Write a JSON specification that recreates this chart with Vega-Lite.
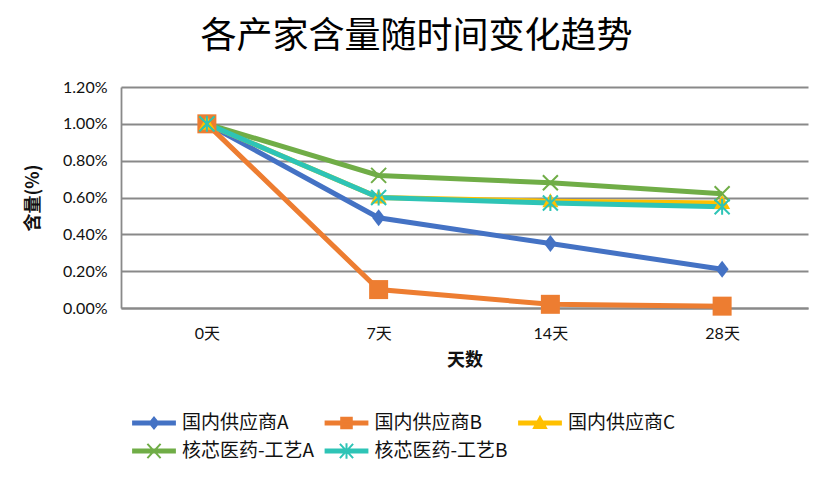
{
  "$schema": "https://vega.github.io/schema/vega-lite/v6.json",
  "width": 687,
  "height": 221,
  "autosize": {"type": "none"},
  "padding": {"left": 121, "top": 87, "right": 24, "bottom": 176},
  "background": "white",
  "title": {
    "text": "各产家含量随时间变化趋势",
    "font": "Noto Sans CJK SC",
    "fontSize": 36,
    "fontWeight": "normal",
    "color": "#000000",
    "anchor": "middle",
    "frame": "group",
    "dx": -48,
    "offset": 23
  },
  "data": {
    "values": [
      {"series": "国内供应商A", "day": "0天", "d": 0, "value": 0.0100},
      {"series": "国内供应商A", "day": "7天", "d": 7, "value": 0.0049},
      {"series": "国内供应商A", "day": "14天", "d": 14, "value": 0.0035},
      {"series": "国内供应商A", "day": "28天", "d": 28, "value": 0.0021},
      {"series": "国内供应商B", "day": "0天", "d": 0, "value": 0.0100},
      {"series": "国内供应商B", "day": "7天", "d": 7, "value": 0.0010},
      {"series": "国内供应商B", "day": "14天", "d": 14, "value": 0.0002},
      {"series": "国内供应商B", "day": "28天", "d": 28, "value": 0.0001},
      {"series": "国内供应商C", "day": "0天", "d": 0, "value": 0.0100},
      {"series": "国内供应商C", "day": "7天", "d": 7, "value": 0.0060},
      {"series": "国内供应商C", "day": "14天", "d": 14, "value": 0.0058},
      {"series": "国内供应商C", "day": "28天", "d": 28, "value": 0.0057},
      {"series": "核芯医药-工艺A", "day": "0天", "d": 0, "value": 0.0100},
      {"series": "核芯医药-工艺A", "day": "7天", "d": 7, "value": 0.0072},
      {"series": "核芯医药-工艺A", "day": "14天", "d": 14, "value": 0.0068},
      {"series": "核芯医药-工艺A", "day": "28天", "d": 28, "value": 0.0062},
      {"series": "核芯医药-工艺B", "day": "0天", "d": 0, "value": 0.0100},
      {"series": "核芯医药-工艺B", "day": "7天", "d": 7, "value": 0.0060},
      {"series": "核芯医药-工艺B", "day": "14天", "d": 14, "value": 0.0057},
      {"series": "核芯医药-工艺B", "day": "28天", "d": 28, "value": 0.0055}
    ]
  },
  "encoding": {
    "x": {
      "field": "day",
      "type": "nominal",
      "sort": ["0天", "7天", "14天", "28天"],
      "axis": {
        "title": "天数",
        "labelAngle": 0,
        "ticks": false,
        "tickSize": 0,
        "grid": false,
        "domainColor": "#898989",
        "domainWidth": 1.8,
        "labelFont": "Lato, Noto Sans CJK SC",
        "labelFontSize": 16,
        "labelColor": "#111111",
        "labelPadding": 17,
        "titleFont": "Noto Sans CJK SC",
        "titleFontSize": 18,
        "titleFontWeight": "bold",
        "titleColor": "#111111",
        "titlePadding": 10
      }
    },
    "y": {
      "field": "value",
      "type": "quantitative",
      "scale": {"domain": [0, 0.012], "nice": false},
      "axis": {
        "title": "含量(%)",
        "values": [0, 0.002, 0.004, 0.006, 0.008, 0.01, 0.012],
        "format": ".2%",
        "ticks": false,
        "tickSize": 0,
        "grid": true,
        "gridColor": "#898989",
        "gridWidth": 1.8,
        "domainColor": "#898989",
        "domainWidth": 1.8,
        "labelFont": "Lato",
        "labelFontSize": 16,
        "labelColor": "#111111",
        "labelPadding": 14,
        "titleFont": "Noto Sans CJK SC",
        "titleFontSize": 18,
        "titleFontWeight": "bold",
        "titleColor": "#111111",
        "titlePadding": 20
      }
    },
    "color": {
      "field": "series",
      "type": "nominal",
      "scale": {
        "domain": ["国内供应商A", "国内供应商B", "国内供应商C", "核芯医药-工艺A", "核芯医药-工艺B"],
        "range": ["#4472C4", "#ED7D31", "#FFC000", "#70AD47", "#2EC4B6"]
      },
      "legend": {
        "title": null,
        "orient": "none",
        "direction": "horizontal",
        "legendX": 10,
        "legendY": 324,
        "columns": 3,
        "padding": 0,
        "symbolSize": 484,
        "symbolStrokeWidth": 2,
        "symbolOffset": 0,
        "symbolOpacity": 1,
        "labelOffset": 27,
        "labelFont": "Noto Sans CJK SC",
        "labelFontSize": 19,
        "labelColor": "#111111",
        "columnPadding": 6.5,
        "rowPadding": 6,
        "encoding": {
          "symbols": {
            "shape": {"value": {"signal": "datum.value === '国内供应商A' ? 'M-0.9,-0.14H2.9V0.14H-0.9ZM1,-0.5L1.4,0L1,0.5L0.6,0Z' : datum.value === '国内供应商B' ? 'M-0.9,-0.14H2.9V0.14H-0.9ZM0.52,-0.48H1.48V0.48H0.52Z' : datum.value === '国内供应商C' ? 'M-0.9,-0.14H2.9V0.14H-0.9ZM1,-0.55L1.55,0.45L0.45,0.45Z' : datum.value === '核芯医药-工艺A' ? 'M-0.9,-0.14H2.9V0.14H-0.9ZM0.4,-0.65L1.6,0.65M0.4,0.65L1.6,-0.65' : 'M-0.9,-0.14H2.9V0.14H-0.9ZM0.4,-0.65L1.6,0.65M0.4,0.65L1.6,-0.65M1,-0.7L1,0.7'"}},
            "fill": {"value": {"signal": "scale('color', datum.value)"}},
            "stroke": {"value": {"signal": "scale('color', datum.value)"}},
            "strokeWidth": {"value": 2},
            "opacity": {"value": 1}
          }
        }
      }
    }
  },
  "layer": [
    {
      "mark": {"type": "line", "strokeWidth": 5},
      "encoding": {"order": {"field": "d", "type": "quantitative"}}
    },
    {
      "transform": [{"filter": "datum.series === '国内供应商A'"}],
      "mark": {"type": "point", "filled": true, "size": 400, "strokeWidth": 0, "opacity": 1, "shape": "M0,-0.85L0.65,0L0,0.85L-0.65,0Z"}
    },
    {
      "transform": [{"filter": "datum.series === '国内供应商B'"}],
      "mark": {"type": "point", "filled": true, "size": 400, "strokeWidth": 0, "opacity": 1, "shape": "M-0.95,-0.95H0.95V0.95H-0.95Z"}
    },
    {
      "transform": [{"filter": "datum.series === '国内供应商C'"}],
      "mark": {"type": "point", "filled": true, "size": 400, "strokeWidth": 0, "opacity": 1, "shape": "M0,-0.8L0.8,0.6L-0.8,0.6Z"}
    },
    {
      "transform": [{"filter": "datum.series === '核芯医药-工艺A'"}],
      "mark": {"type": "point", "filled": false, "size": 400, "strokeWidth": 2, "opacity": 1, "shape": "M-0.75,-0.75L0.75,0.75M-0.75,0.75L0.75,-0.75"}
    },
    {
      "transform": [{"filter": "datum.series === '核芯医药-工艺B'"}],
      "mark": {"type": "point", "filled": false, "size": 400, "strokeWidth": 2, "opacity": 1, "shape": "M-0.75,-0.75L0.75,0.75M-0.75,0.75L0.75,-0.75M0,-0.8L0,0.8"}
    }
  ],
  "config": {
    "view": {"stroke": null}
  }
}
